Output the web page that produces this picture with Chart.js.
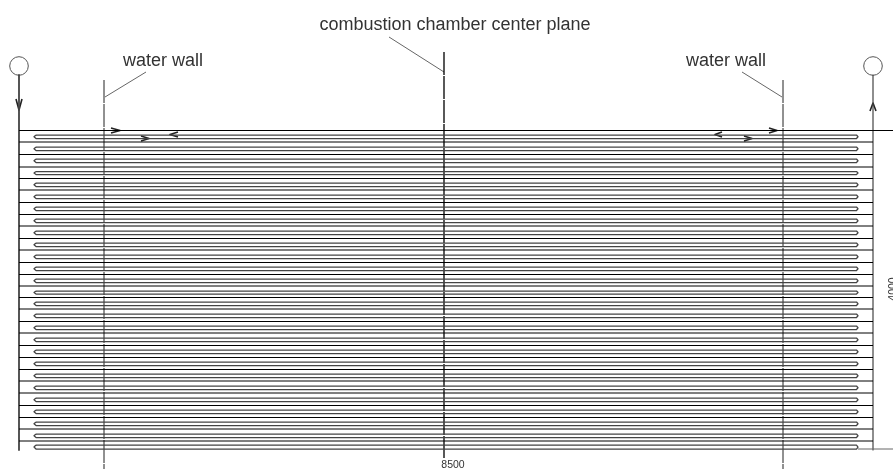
<!DOCTYPE html>
<html><head><meta charset="utf-8">
<style>html,body{margin:0;padding:0;background:#fff;overflow:hidden}canvas{display:block}</style>
<script src="https://cdn.jsdelivr.net/npm/chart.js@4"></script></head>
<body><canvas id="c" width="893" height="471"></canvas>
<script>
// Drawing, in sheet units.
const rowLines=[130.5,142,154.5,167,178.5,190,202.5,214.5,226,238.5,250,262.5,274.5,286,297.5,309,321.5,333,345.5,357.5,369.5,381,393,405.5,417.5,429,441];
const tubeTops=[135,147,159,171.5,183,195,207,219,231,243,255,267,279,291,302,314,326,338,350,362,374,386,398,410,422,434,445];
const tubeBottoms=[138.5,150.5,162.5,174.5,186.5,198.5,210.5,222.5,234.5,246.5,258.5,270.5,282.5,294,305.5,317.5,329.5,341.5,353.5,365.5,377.5,389.5,401.5,413.5,425.5,437.5,449];
const tubeEndsX=[34,858];
const headersX=[19,873];
const headerRangeY=[75,450];
const wallsX=[104,783];
const wallRangeY=[80,469];
const centerX=[444];
const centerRangeY=[52,458];
const circleX=[19,873], circleY=[66,66];
const leaders=[[[105,97],[146,72]],[[742,72],[782,97]],[[389,37],[444,72]]];
const chevrons=[[[16,99],[19,110],[22,99]],[[870,111],[873,103],[876,111]],
 [[111,128],[120,130.5],[111,133]],[[141,136],[149,138.5],[141,141]],[[178,132],[170,134.5],[178,137]],
 [[722,132],[715,134.5],[722,137]],[[744,136],[752,138.5],[744,141]],[[769,128],[777,130.5],[769,133]]];
const labels=[["combustion chamber center plane",455,25,18,0],["water wall",163,61,18,0],["water wall",726,61,18,0],["8500",453,465,10.5,0],["4000",893,289,10.5,-90]];

const pts=a=>a.map(p=>({x:p[0],y:p[1]}));
const stroke=(p,color,w,extra)=>Object.assign({type:'line',data:pts(p),borderColor:color,borderWidth:w,pointRadius:0,tension:0,fill:false,borderJoinStyle:'round'},extra||{});
const ds=[];
tubeTops.forEach((t,i)=>{
  const b=tubeBottoms[i],m=(t+b)/2,[l,r]=tubeEndsX;
  ds.push(stroke([[l+2,t],[r-1.5,t],[r,m],[r-1.5,b],[l+2,b],[l,m],[l+2,t]],'#444',1.25));
});
rowLines.forEach((y,i)=>ds.push(stroke([[headersX[0],y],[i===0?893:headersX[1],y]],'#000',1)));
ds.push(stroke([[tubeEndsX[1],449],[893,449]],'#666',1));
ds.push(stroke([[headersX[0],headerRangeY[0]],[headersX[0],headerRangeY[1]]],'#444',1.8));
ds.push(stroke([[headersX[1],headerRangeY[0]],[headersX[1],headerRangeY[1]]],'#444',1.2));
wallsX.forEach(x=>ds.push(stroke([[x,wallRangeY[0]],[x,wallRangeY[1]]],'#222',1,{borderDash:[23,1]})));
centerX.forEach(x=>ds.push(stroke([[x,centerRangeY[0]],[x,centerRangeY[1]]],'#000',1.3,{borderDash:[23,1]})));
leaders.forEach(p=>ds.push(stroke(p,'#666',1)));
chevrons.forEach(p=>ds.push(stroke(p,'#222',1.6)));
ds.push({type:'scatter',data:circleX.map((x,i)=>({x,y:circleY[i]})),pointRadius:9.3,pointBackgroundColor:'#fff',pointBorderColor:'#555',pointBorderWidth:1,showLine:false});

const textPlugin={id:'sheetText',afterDatasetsDraw(ch){
  const {ctx,scales:{x,y}}=ch;
  labels.forEach(([s,px,py,size,rot])=>{
    ctx.save();
    ctx.translate(x.getPixelForValue(px),y.getPixelForValue(py));
    ctx.rotate(rot*Math.PI/180);
    ctx.font=size+'px "Liberation Sans"';ctx.fillStyle='#333';ctx.textAlign='center';ctx.textBaseline='middle';
    ctx.fillText(s,0,0);ctx.restore();
  });
}};
new Chart(document.getElementById('c'),{type:'line',data:{datasets:ds},plugins:[textPlugin],options:{
  responsive:false,animation:false,devicePixelRatio:1,
  layout:{padding:0,autoPadding:false},
  plugins:{legend:{display:false},tooltip:{enabled:false},title:{display:false}},
  scales:{x:{type:'linear',min:0,max:893,display:false},y:{type:'linear',min:0,max:471,reverse:true,display:false}}
}});
</script></body></html>
